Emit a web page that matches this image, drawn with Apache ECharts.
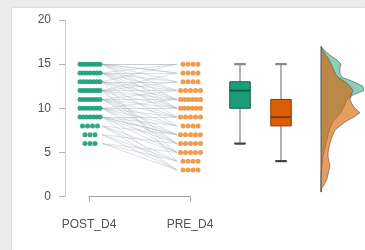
<!DOCTYPE html>
<html>
<head>
<meta charset="utf-8">
<title>POST_D4 vs PRE_D4</title>
<script src="https://cdn.jsdelivr.net/npm/echarts@6/dist/echarts.min.js"></script>
<style>
    html, body { margin: 0; padding: 0; }
    body { width: 365px; height: 250px; background: #ececec; position: relative; overflow: hidden; }
    .panel { position: absolute; left: 12px; top: 8px; right: 0; bottom: 0; background: #fff; box-shadow: 0 0 2px rgba(0,0,0,0.18); }
    #chart { position: absolute; left: 0; top: 0; width: 365px; height: 250px; }
</style>
</head>
<body>
<div class="panel"></div>
<div id="chart"></div>
<script>
    // 分组
    var groups = ['POST_D4', 'PRE_D4'];

    // 每个人的配对得分 (同一下标 = 同一个人)
    var postScores = [15, 15, 15, 15, 15, 15, 15, 15,
                      14, 14, 14, 14, 14, 14, 14,
                      13, 13, 13, 13, 13, 13, 13,
                      12, 12, 12, 12, 12, 12, 12, 12,
                      11, 11, 11, 11, 11, 11, 11,
                      10, 10, 10, 10, 10, 10, 10,
                      9, 9, 9, 9, 9, 9, 9,
                      8, 8, 8, 8,
                      7, 7, 7,
                      6, 6, 6];
    var preScores = [15, 13, 14, 12, 15, 11, 14, 10,
                     15, 12, 13, 14, 11, 9, 10,
                     13, 15, 12, 10, 11, 8, 4,
                     14, 11, 9, 13, 10, 12, 6, 5,
                     12, 10, 7, 9, 11, 8, 6,
                     11, 9, 7, 8, 5, 10, 6,
                     7, 8, 6, 3, 7, 9, 5,
                     7, 4, 3, 5,
                     6, 4, 3,
                     5, 4, 3];

    // 箱线图 [min, Q1, median, Q3, max]
    var postBox = [6, 10, 12, 13, 15];
    var preBox = [4, 8, 9, 11, 15];

    // 密度曲线 (y值 -> 密度)
    var densityY = [17, 16.5, 16, 15.5, 15, 14.5, 14, 13.5, 13, 12.5, 12, 11.5, 11, 10.5, 10, 9.5,
                    9, 8.5, 8, 7.5, 7, 6.5, 6, 5.5, 5, 4.5, 4, 3.5, 3, 2.5, 2, 1.5, 1, 0.5];
    var postDensity = [0, 0.019, 0.042, 0.074, 0.093, 0.088, 0.088, 0.098, 0.153, 0.195, 0.2, 0.149,
                       0.121, 0.112, 0.102, 0.093, 0.074, 0.056, 0.047, 0.037, 0.033, 0.028, 0.023,
                       0.019, 0.014, 0.009, 0.007, 0.005, 0.002, 0, 0, 0, 0, 0];
    var preDensity = [0, 0.009, 0.023, 0.037, 0.047, 0.056, 0.065, 0.079, 0.112, 0.135, 0.149, 0.14,
                      0.135, 0.144, 0.158, 0.181, 0.153, 0.116, 0.088, 0.065, 0.056, 0.047, 0.042,
                      0.037, 0.033, 0.033, 0.037, 0.042, 0.037, 0.033, 0.028, 0.019, 0.005, 0];

    var green = '#1b9e77';
    var orange = '#d95f02';
    var textColor = '#505050';
    var rowWidth = 20;   // 一行点的最大宽度(px)
    var maxStep = 5;

    // 点按行排开
    function dotData(scores, gx, shift) {
        var counts = {}, seen = {};
        scores.forEach(function (v) { counts[v] = (counts[v] || 0) + 1; });
        return scores.map(function (v) {
            var n = counts[v];
            seen[v] = seen[v] === undefined ? 0 : seen[v] + 1;
            var step = n > 1 ? Math.min(maxStep, rowWidth / (n - 1)) : 0;
            var off = (seen[v] - (n - 1) / 2) * step + shift;
            return { value: [gx, v], symbolOffset: [off, 0] };
        });
    }

    var pairLines = postScores.map(function (p, i) {
        return { coords: [[1.13, p], [1.87, preScores[i]]] };
    });

    var boxStats = [postBox, preBox];
    var boxFill = [green, orange];
    var boxDark = ['#0f5e47', '#8a3c02'];

    function boxItem(params, api) {
        var i = api.value(0);
        var s = boxStats[i];
        var hw = 0.25, cw = 0.12;
        var top = api.coord([i, s[4]]), bot = api.coord([i, s[0]]);
        var q3 = api.coord([i - hw, s[3]]), q1 = api.coord([i + hw, s[1]]);
        var medL = api.coord([i - hw, s[2]]), medR = api.coord([i + hw, s[2]]);
        var capL = api.coord([i - cw, 0])[0], capR = api.coord([i + cw, 0])[0];
        return {
            type: 'group',
            children: [
                { type: 'line', shape: { x1: top[0], y1: top[1], x2: bot[0], y2: bot[1] },
                  style: { stroke: '#9a9a9a', lineWidth: 1.5 } },
                { type: 'line', shape: { x1: capL, y1: top[1], x2: capR, y2: top[1] },
                  style: { stroke: '#8a8a8a', lineWidth: 2.2, lineCap: 'round' } },
                { type: 'line', shape: { x1: capL, y1: bot[1], x2: capR, y2: bot[1] },
                  style: { stroke: '#444', lineWidth: 2.2, lineCap: 'round' } },
                { type: 'rect', shape: { x: q3[0], y: q3[1], width: q1[0] - q3[0], height: q1[1] - q3[1] },
                  style: { fill: boxFill[i], stroke: boxDark[i], lineWidth: 1 } },
                { type: 'line', shape: { x1: medL[0], y1: medL[1], x2: medR[0], y2: medR[1] },
                  style: { stroke: boxDark[i], lineWidth: 2 } }
            ]
        };
    }

    function densityItem(values, fill) {
        return function (params, api) {
            var pts = [api.coord([0, densityY[0]])];
            for (var k = 0; k < densityY.length; k++) {
                pts.push(api.coord([values[k], densityY[k]]));
            }
            pts.push(api.coord([0, densityY[densityY.length - 1]]));
            return {
                type: 'polygon',
                shape: { points: pts },
                style: { fill: fill, stroke: 'rgba(50,50,50,0.6)', lineWidth: 0.8 }
            };
        };
    }

    var hiddenY = { type: 'value', min: 0, max: 20, show: false };

    var chart = echarts.init(document.getElementById('chart'));
    chart.setOption({
        backgroundColor: 'transparent',
        animation: false,
        textStyle: { fontFamily: 'Liberation Sans' },
        grid: [
            { left: 89, right: 175, top: 20, bottom: 53.5 },
            { left: 219.5, right: 63.5, top: 20, bottom: 53.5 },
            { left: 321, right: 0, top: 20, bottom: 53.5 }
        ],
        xAxis: [
            {
                type: 'value', gridIndex: 0, min: 1, max: 2, interval: 1, offset: 6,
                axisLine: { show: true, lineStyle: { color: '#a0a0a0' } },
                axisTick: { show: true, length: 5, lineStyle: { color: '#a0a0a0' } },
                splitLine: { show: false },
                axisLabel: {
                    margin: 16, color: textColor, fontSize: 12,
                    showMinLabel: true, showMaxLabel: true,
                    formatter: function (v) { return groups[v - 1]; }
                }
            },
            { type: 'value', gridIndex: 1, min: -0.5, max: 1.5, show: false },
            { type: 'value', gridIndex: 2, min: 0, max: 0.205, show: false }
        ],
        yAxis: [
            {
                type: 'value', gridIndex: 0, min: 0, max: 20, interval: 5, offset: 24,
                axisLine: { show: true, lineStyle: { color: '#d4cccc' } },
                axisTick: { show: true, length: 6, lineStyle: { color: '#b8b0b0' } },
                splitLine: { show: false },
                axisLabel: { margin: 14, color: textColor, fontSize: 12 }
            },
            Object.assign({ gridIndex: 1 }, hiddenY),
            Object.assign({ gridIndex: 2 }, hiddenY)
        ],
        series: [
            {
                type: 'lines', coordinateSystem: 'cartesian2d', xAxisIndex: 0, yAxisIndex: 0,
                data: pairLines, silent: true, z: 1,
                lineStyle: { color: '#a9b1bd', width: 0.9, opacity: 0.45 }
            },
            {
                name: groups[0], type: 'scatter', xAxisIndex: 0, yAxisIndex: 0, clip: false, z: 3,
                symbol: 'circle', symbolSize: 5,
                itemStyle: { color: green, opacity: 0.9 },
                data: dotData(postScores, 1, 1)
            },
            {
                name: groups[1], type: 'scatter', xAxisIndex: 0, yAxisIndex: 0, clip: false, z: 3,
                symbol: 'circle', symbolSize: 5,
                itemStyle: { color: '#ee8a2e', opacity: 0.85 },
                data: dotData(preScores, 2, 0.5)
            },
            {
                type: 'custom', xAxisIndex: 1, yAxisIndex: 1,
                renderItem: boxItem, data: [[0], [1]]
            },
            {
                type: 'custom', xAxisIndex: 2, yAxisIndex: 2, clip: false,
                renderItem: densityItem(postDensity, 'rgba(27,158,119,0.5)'), data: [[0]]
            },
            {
                type: 'custom', xAxisIndex: 2, yAxisIndex: 2, clip: false,
                renderItem: densityItem(preDensity, 'rgba(217,95,2,0.62)'), data: [[0]]
            }
        ]
    });
</script>
</body>
</html>
